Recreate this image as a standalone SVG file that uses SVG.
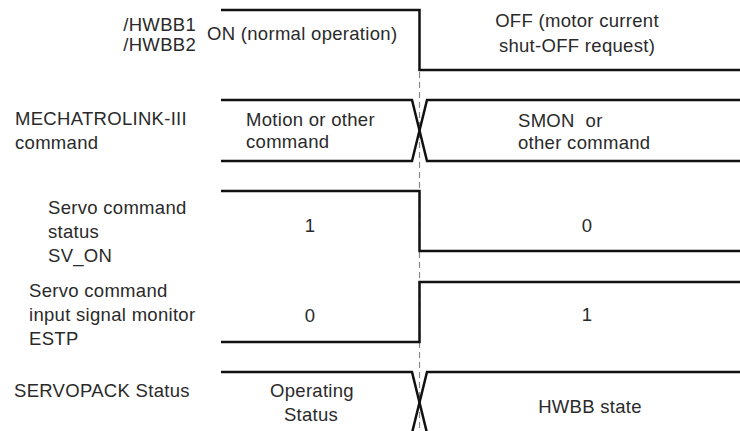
<svg xmlns="http://www.w3.org/2000/svg" width="740" height="431" viewBox="0 0 740 431">
<style>
  text { font-family: "Liberation Sans", Arial, sans-serif; font-size: 18.5px; letter-spacing: 0.3px; fill: #2a2a2a; }
  .mid { text-anchor: middle; }
  .end { text-anchor: end; }
  .sig { fill: none; stroke: #111; stroke-width: 2.5; stroke-linejoin: miter; }
  .guide { fill: none; stroke: #888; stroke-width: 1.2; stroke-dasharray: 6 4; }
</style>
<rect width="740" height="431" fill="#fff"/>
<g id="guides">
  <line class="guide" x1="419.5" y1="72" x2="419.5" y2="431"/>
</g>
<g id="hwbb">
  <polyline class="sig" points="221,10 419.5,10 419.5,70 740,70"/>
  <text class="end" x="196" y="31">/HWBB1</text>
  <text class="end" x="196" y="51">/HWBB2</text>
  <text x="207" y="40">ON (normal operation)</text>
  <text class="mid" x="577" y="27">OFF (motor current</text>
  <text class="mid" x="577" y="52">shut-OFF request)</text>
</g>
<g id="mechatrolink">
  <polyline class="sig" points="221,100 412,100 427,161 740,161"/>
  <polyline class="sig" points="221,161 412,161 427,100 740,100"/>
  <text x="15" y="125">MECHATROLINK-III</text>
  <text x="15" y="149">command</text>
  <text x="246" y="126">Motion or other</text>
  <text x="246" y="148">command</text>
  <text x="518" y="127" xml:space="preserve">SMON  or</text>
  <text x="518" y="149">other command</text>
</g>
<g id="sv_on">
  <polyline class="sig" points="221,191 419.5,191 419.5,251 740,251"/>
  <text x="48" y="214">Servo command</text>
  <text x="48" y="238">status</text>
  <text x="48" y="262">SV_ON</text>
  <text class="mid" x="310" y="232">1</text>
  <text class="mid" x="587" y="232">0</text>
</g>
<g id="estp">
  <polyline class="sig" points="221,342 419.5,342 419.5,282 740,282"/>
  <text x="29" y="297">Servo command</text>
  <text x="29" y="321">input signal monitor</text>
  <text x="29" y="345">ESTP</text>
  <text class="mid" x="310" y="322">0</text>
  <text class="mid" x="587" y="321">1</text>
</g>
<g id="servopack">
  <polyline class="sig" points="221,372 412,372 427,433"/>
  <polyline class="sig" points="412,433 427,372 740,372"/>
  <text x="14" y="397">SERVOPACK Status</text>
  <text class="mid" x="312" y="397">Operating</text>
  <text class="mid" x="311" y="421">Status</text>
  <text class="mid" x="590" y="413">HWBB state</text>
</g>
</svg>
